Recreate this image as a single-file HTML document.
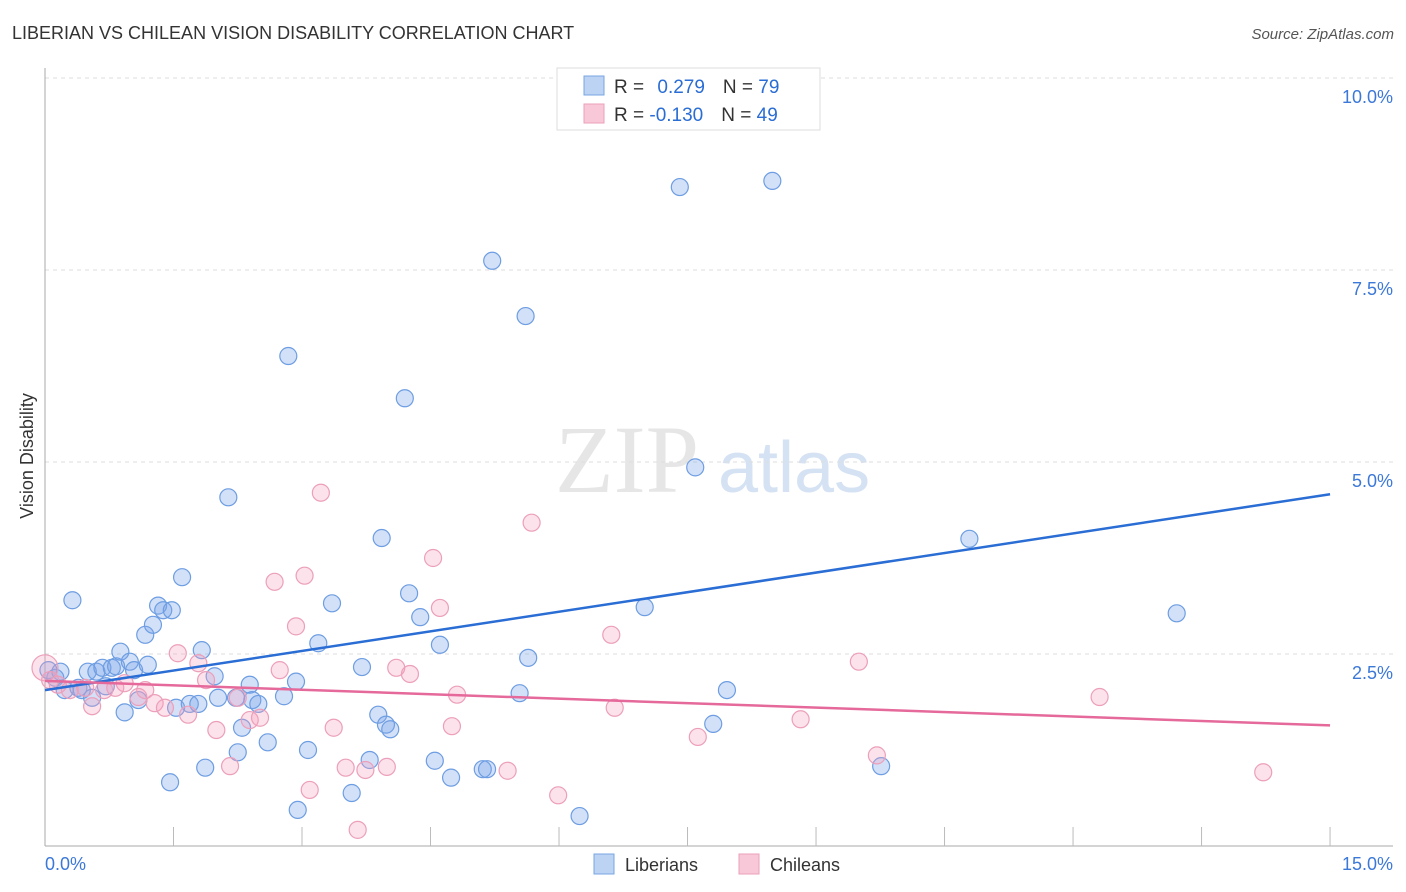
<!DOCTYPE html>
<html><head><meta charset="utf-8"><style>
body{margin:0;background:#fff;font-family:"Liberation Sans",sans-serif;}
svg{display:block}
</style></head><body>
<svg width="1406" height="892" id="chart">
<text x="12" y="39" font-size="18" fill="#333">LIBERIAN VS CHILEAN VISION DISABILITY CORRELATION CHART</text>
<text x="1394" y="39" font-size="15" fill="#555" font-style="italic" text-anchor="end">Source: ZipAtlas.com</text>
<text x="555" y="492" font-size="96" fill="#e6e6e6" font-family="Liberation Serif,serif">ZIP</text>
<text x="718" y="492" font-size="72" fill="#d5e2f3">atlas</text>
<text transform="translate(33,456) rotate(-90)" font-size="18" fill="#333" text-anchor="middle">Vision Disability</text>
<g id="grid"></g><g id="axes"></g><g id="pts"></g><g id="lines"></g>
<g>
<rect x="557" y="68" width="263" height="62" fill="#fff" stroke="#ddd"/>
<rect x="584" y="76" width="20" height="19" fill="#bcd3f3" stroke="#7aa6e3"/>
<rect x="584" y="104" width="20" height="19" fill="#f8c8d8" stroke="#eba0b8"/>
<text x="614" y="93" font-size="19" fill="#333">R = <tspan fill="#2a6dd4" dx="8">0.279</tspan><tspan dx="18" fill="#333">N = </tspan><tspan fill="#2a6dd4">79</tspan></text>
<text x="614" y="121" font-size="19" fill="#333">R = <tspan fill="#2a6dd4">-0.130</tspan><tspan dx="18" fill="#333">N = </tspan><tspan fill="#2a6dd4">49</tspan></text>
</g>
<g>
<rect x="594" y="854" width="20" height="20" fill="#bcd3f3" stroke="#7aa6e3"/>
<text x="625" y="871" font-size="18" fill="#333">Liberians</text>
<rect x="739" y="854" width="20" height="20" fill="#f8c8d8" stroke="#eba0b8"/>
<text x="770" y="871" font-size="18" fill="#333">Chileans</text>
</g>
</svg>
<script>
const yTicks=[2.5,5.0,7.5,10.0];
const yTickLabels=["2.5%","5.0%","7.5%","10.0%"];
const xTicks=[1.5,3,4.5,6,7.5,9,10.5,12,13.5,15];
const xEndLabels=["0.0%","15.0%"];
const blueX=[0.04,0.12,0.18,0.23,0.32,0.39,0.43,0.5,0.55,0.6,0.67,0.71,0.78,0.83,0.88,0.93,0.99,1.04,1.09,1.17,1.2,1.26,1.32,1.38,1.46,1.48,1.53,1.6,1.69,1.79,1.83,1.87,1.98,2.02,2.14,2.23,2.25,2.3,2.39,2.42,2.49,2.6,2.79,2.84,2.93,2.95,3.07,3.19,3.35,3.58,3.7,3.89,3.93,3.98,4.03,3.79,4.2,4.25,4.38,4.55,4.61,4.74,5.11,5.16,5.22,5.54,5.61,5.64,6.24,7.0,7.41,7.59,7.8,7.96,8.49,9.76,10.79,13.21];
const blueY=[2.29,2.19,2.27,2.03,3.2,2.06,2.03,2.27,1.93,2.27,2.32,2.08,2.32,2.34,2.53,1.74,2.4,2.29,1.9,2.75,2.36,2.88,3.13,3.07,0.83,3.07,1.8,3.5,1.85,1.85,2.55,1.02,2.21,1.93,4.54,1.93,1.22,1.54,2.1,1.9,1.85,1.35,1.95,6.38,2.14,0.47,1.25,2.64,3.16,0.69,2.33,1.71,4.01,1.58,1.52,1.12,5.83,3.29,2.98,1.11,2.62,0.89,1.0,1.0,7.62,1.99,6.9,2.45,0.39,3.11,8.58,4.93,1.59,2.03,8.66,1.04,4.0,3.03];
const pinkX=[0,0.06,0.15,0.29,0.47,0.55,0.69,0.82,0.93,1.09,1.17,1.28,1.4,1.55,1.67,1.79,1.88,2.0,2.16,2.25,2.39,2.51,2.68,2.74,2.93,3.03,3.09,3.22,3.37,3.51,3.65,3.74,3.99,4.1,4.26,4.53,4.61,4.75,4.81,5.4,5.68,5.99,6.61,6.65,7.62,8.82,9.5,9.71,12.31,14.22];
const pinkY=[2.32,2.16,2.1,2.03,2.06,1.82,2.03,2.06,2.12,1.94,2.03,1.86,1.8,2.51,1.71,2.38,2.16,1.51,1.04,1.93,1.64,1.67,3.44,2.29,2.86,3.52,0.73,4.6,1.54,1.02,0.21,0.99,1.03,2.32,2.24,3.75,3.1,1.56,1.97,0.98,4.21,0.66,2.75,1.8,1.42,1.65,2.4,1.18,1.94,0.96];
const blueTrend=[2.03,4.58];
const pinkTrend=[2.15,1.57];
const NS="http://www.w3.org/2000/svg";
const sx=v=>45+v*85.67, sy=v=>846-v*76.8;
function mk(t,p,a){const e=document.createElementNS(NS,t);for(const k in a)e.setAttribute(k,a[k]);p.appendChild(e);return e;}
const grid=document.getElementById('grid'),axes=document.getElementById('axes'),pts=document.getElementById('pts'),lines=document.getElementById('lines');
yTicks.forEach((t,i)=>{
 const l=mk('line',grid,{x1:45,x2:1393,y1:sy(t),y2:sy(t),stroke:'#ddd','stroke-dasharray':'4,4'});
 
 
 const tx=mk('text',grid,{x:1393,y:sy(t)+25,'text-anchor':'end','font-size':18,fill:'#3b78d8'});
 tx.textContent=yTickLabels[i];
 
 
});
mk('line',axes,{x1:45,x2:45,y1:68,y2:846,stroke:'#aaa'});
mk('line',axes,{x1:45,x2:1393,y1:846,y2:846,stroke:'#aaa'});
xTicks.forEach(t=>{const l=mk('line',axes,{x1:sx(t),x2:sx(t),y1:827,y2:846,stroke:'#bbb'});
 
 });
const xl=mk('text',axes,{x:45,y:870,'font-size':18,fill:'#3b78d8'});xl.textContent=xEndLabels[0];


const xr=mk('text',axes,{x:1393,y:870,'font-size':18,fill:'#3b78d8','text-anchor':'end'});xr.textContent=xEndLabels[1];


blueX.forEach((x,i)=>{const c=mk('circle',pts,{cx:sx(x),cy:sy(blueY[i]),r:8.5,fill:'rgba(120,165,235,0.33)',stroke:'#6d9de2','stroke-width':1.2});
 
 });
pinkX.forEach((x,i)=>{const c=mk('circle',pts,{cx:sx(x),cy:sy(pinkY[i]),r:i==0?13:8.5,fill:'rgba(245,160,190,0.3)',stroke:'#ec9fba','stroke-width':1.2});
 
 });
const bl=mk('line',lines,{x1:sx(0),x2:sx(15),y1:sy(blueTrend[0]),y2:sy(blueTrend[1]),stroke:'#2a6dd4','stroke-width':2.5});


const pl=mk('line',lines,{x1:sx(0),x2:sx(15),y1:sy(pinkTrend[0]),y2:sy(pinkTrend[1]),stroke:'#e5699a','stroke-width':2.5});


</script>
</body></html>
